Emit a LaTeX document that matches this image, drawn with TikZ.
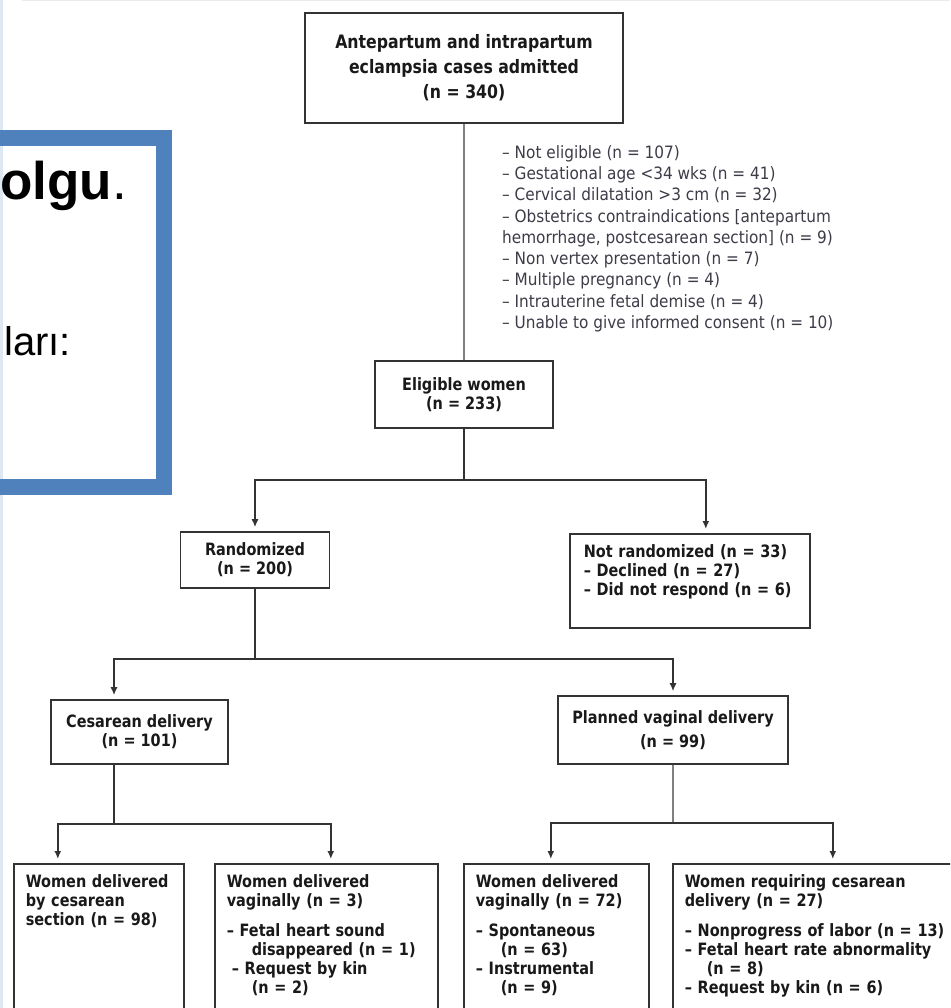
\documentclass[tikz,border=0pt]{standalone}
\usepackage{fontspec}
\setmainfont{DejaVu Sans}[FakeStretch=0.85]
\newfontfamily\notefont{DejaVu Sans}[FakeStretch=0.9]
\newfontfamily\slidefont{Liberation Sans}
\usetikzlibrary{positioning,arrows.meta}
\definecolor{boxline}{HTML}{333333}
\definecolor{slideblue}{HTML}{4F81BD}
\definecolor{notetext}{HTML}{3C3C48}
\definecolor{edgeblue}{HTML}{DDE8F4}

\begin{document}
\begin{tikzpicture}[x=1pt,y=-1pt,on grid,
  box/.style={draw=boxline,line width=1.6pt,align=center,inner sep=0pt,text=black!90,
    font=\fontsize{17}{19}\selectfont\bfseries},
  lbox/.style={box,align=left,inner xsep=12pt,inner ysep=5pt,text height=19pt},
  note/.style={align=left,inner sep=0pt,text=notetext,font=\notefont\fontsize{17}{21.3}\selectfont},
  link/.style={draw=boxline,line width=1.5pt},
  faint/.style={draw=black!50,line width=1.5pt},
  arr/.style={-{Latex[length=8pt,width=7pt]},shorten >=4pt}]
\useasboundingbox (0,0) rectangle (950,1008);
\clip (0,0) rectangle (950,1008);

% slide behind the chart
\draw[edgeblue,line width=3pt] (1,0) -- (1,1008);
\draw[black!8,line width=1pt] (22,0.5) -- (950,0.5);
\draw[slideblue,line width=16pt] (-20,138) -- (164,138) -- (164,487) -- (-20,487);
\node[anchor=base west,inner sep=0pt,font=\slidefont\fontsize{53}{53}\selectfont] (title) at (0,200) {\textbf{olgu}.};
\node[anchor=base west,inner sep=0pt,font=\slidefont\fontsize{40}{40}\selectfont] (results) at (4,355) {ları:};

\node[box,minimum width=318pt,minimum height=110pt,font=\fontsize{18.5}{25}\selectfont\bfseries] (admitted) at (464,68)
  {Antepartum and intrapartum\\eclampsia cases admitted\\(n = 340)};
\node[box,minimum width=178pt,minimum height=67pt] (eligible) [below=326.5pt of admitted] {Eligible women\\(n = 233)};
\node[note,anchor=north west] (excluded) at (502,145)
  {– Not eligible (n = 107)\\
   – Gestational age <34 wks (n = 41)\\
   – Cervical dilatation >3 cm (n = 32)\\
   – Obstetrics contraindications [antepartum\\
   hemorrhage, postcesarean section] (n = 9)\\
   – Non vertex presentation (n = 7)\\
   – Multiple pregnancy (n = 4)\\
   – Intrauterine fetal demise (n = 4)\\
   – Unable to give informed consent (n = 10)};

\node[box,minimum width=149pt,minimum height=56pt] (randomized) at (255,560) {Randomized\\(n = 200)};
\node[lbox,anchor=north west,inner xsep=14pt,text width=212pt,text depth=65pt] (notrand) at (569,533)
  {Not randomized (n = 33)\\– Declined (n = 27)\\– Did not respond (n = 6)};

\node[box,minimum width=177pt,minimum height=64pt] (cesarean) at (139.5,732) {Cesarean delivery\\(n = 101)};
\node[box,minimum width=230pt,minimum height=68pt,font=\fontsize{17}{24}\selectfont\bfseries] (planned) at (673,730)
  {Planned vaginal delivery\\(n = 99)};

\node[lbox,anchor=north west,text width=146pt,text depth=150pt] (bycs) at (13,863)
  {Women delivered\\by cesarean\\section (n = 98)};
\node[lbox,anchor=north west,text width=199pt,text depth=150pt] (vagcs) at (214,863)
  {Women delivered\\vaginally (n = 3)\\[11pt]
   – Fetal heart sound\\\hspace*{25pt}disappeared (n = 1)\\
   \hspace*{5pt}– Request by kin\\\hspace*{25pt}(n = 2)};
\node[lbox,anchor=north west,text width=161pt,text depth=150pt] (vaginal) at (463,863)
  {Women delivered\\vaginally (n = 72)\\[11pt]
   – Spontaneous\\\hspace*{25pt}(n = 63)\\– Instrumental\\\hspace*{25pt}(n = 9)};
\node[lbox,anchor=north west,text width=264pt,text depth=150pt] (cscase) at (672,863)
  {Women requiring cesarean\\delivery (n = 27)\\[11pt]
   – Nonprogress of labor (n = 13)\\– Fetal heart rate abnormality\\\hspace*{22pt}(n = 8)\\
   – Request by kin (n = 6)};

\path (eligible.south) ++(0,51) coordinate (splitE);
\path (randomized.south) ++(0,70) coordinate (splitR);
\path ([xshift=-25.5pt]cesarean.south) ++(0,59) coordinate (splitC);
\path (planned.south) ++(0,58) coordinate (splitP);

\draw[faint] (admitted) -- (eligible);
\draw[link] (eligible) -- (splitE);
\draw[link,arr] (splitE) -| (randomized);
\draw[link,arr] (splitE) -| ([xshift=16pt]notrand.north);
\draw[link] (randomized) -- (splitR);
\draw[link,arr] (splitR) -| ([xshift=-25.5pt]cesarean.north);
\draw[link,arr] (splitR) -| (planned);
\draw[link] ([xshift=-25.5pt]cesarean.south) -- (splitC);
\draw[link,arr] (splitC) -| ([xshift=-41pt]bycs.north);
\draw[link,arr] (splitC) -| ([xshift=4.5pt]vagcs.north);
\draw[faint] (planned) -- (splitP);
\draw[link,arr] (splitP) -| ([xshift=-5.5pt]vaginal.north);
\draw[link,arr] (splitP) -| ([xshift=16pt]cscase.north);
\end{tikzpicture}
\end{document}
